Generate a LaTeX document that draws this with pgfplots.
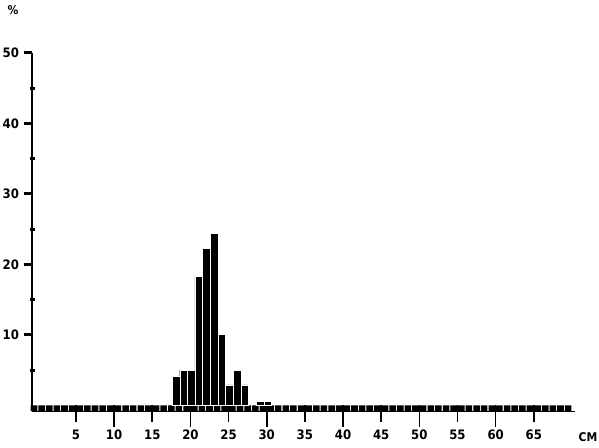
\documentclass[border=0pt]{standalone}
\usepackage{pgfplots}
\pgfplotsset{compat=1.18}
\usepackage{fontspec}
\setmainfont{DejaVu Sans Condensed}
\begin{document}
\begin{tikzpicture}
\pgfplotsset{base/.style={
  at={(32pt,36pt)}, anchor=south west,
  scale only axis, width=543pt, height=358pt,
  xmin=-0.76, xmax=70.4, ymin=-0.8, ymax=50}}
\path[use as bounding box] (0pt,0pt) rectangle (599pt,447pt);
\begin{axis}[
  base,
  axis x line*=bottom, axis y line*=left,
  x axis line style={-, line width=0.5pt},
  y axis line style={-, line width=2.5pt},
  xtick align=outside, ytick align=outside,
  major tick length=8.5pt,
  xtick={5,10,...,65},
  xticklabels={5,10,15,20,25,30,35,40,45,50,55,60,65},
  xtick style={black, line width=1.6pt},
  x tick label style={font=\fontsize{13}{13}\selectfont\bfseries, yshift=-7pt},
  ytick={10,20,30,40,50},
  yticklabels={10,20,30,40,50},
  ytick style={black, line width=3pt},
  y tick label style={font=\fontsize{13}{13}\selectfont\bfseries, xshift=-1pt},
  clip=false,
]
% x tick marks below the baseline (short at odd fives, long at tens)
\addplot[ycomb, black, line width=1.6pt, mark=none] coordinates {
(5,-2.3)(15,-2.3)(25,-2.3)(35,-2.3)(45,-2.3)(55,-2.3)(65,-2.3)
};
\addplot[ycomb, black, line width=1.6pt, mark=none] coordinates {
(10,-3.1)(20,-3.1)(30,-3.1)(40,-3.1)(50,-3.1)(60,-3.1)
};
% baseline row of small bars (below zero)
\addplot[ybar, fill=black, draw=none, bar width=0.86, bar shift=0pt] coordinates {
(-0.5,-0.8)(0.5,-0.8)(1.5,-0.8)(2.5,-0.8)(3.5,-0.8)(4.5,-0.8)(5.5,-0.8)(6.5,-0.8)(7.5,-0.8)(8.5,-0.8)
(9.5,-0.8)(10.5,-0.8)(11.5,-0.8)(12.5,-0.8)(13.5,-0.8)(14.5,-0.8)(15.5,-0.8)(16.5,-0.8)(17.5,-0.8)(18.5,-0.8)
(19.5,-0.8)(20.5,-0.8)(21.5,-0.8)(22.5,-0.8)(23.5,-0.8)(24.5,-0.8)(25.5,-0.8)(26.5,-0.8)(27.5,-0.8)(28.5,-0.8)
(29.5,-0.8)(30.5,-0.8)(31.5,-0.8)(32.5,-0.8)(33.5,-0.8)(34.5,-0.8)(35.5,-0.8)(36.5,-0.8)(37.5,-0.8)(38.5,-0.8)
(39.5,-0.8)(40.5,-0.8)(41.5,-0.8)(42.5,-0.8)(43.5,-0.8)(44.5,-0.8)(45.5,-0.8)(46.5,-0.8)(47.5,-0.8)(48.5,-0.8)
(49.5,-0.8)(50.5,-0.8)(51.5,-0.8)(52.5,-0.8)(53.5,-0.8)(54.5,-0.8)(55.5,-0.8)(56.5,-0.8)(57.5,-0.8)(58.5,-0.8)
(59.5,-0.8)(60.5,-0.8)(61.5,-0.8)(62.5,-0.8)(63.5,-0.8)(64.5,-0.8)(65.5,-0.8)(66.5,-0.8)(67.5,-0.8)(68.5,-0.8)
(69.5,-0.8)
};
% main histogram
\addplot[ybar, fill=black, draw=white, line width=0.3pt, bar width=1, bar shift=0pt] coordinates {
(18.1,4.1)(19.1,5)(20.1,5)(21.1,18.3)(22.1,22.3)(23.1,24.4)(24.1,10.1)(25.1,2.9)(26.1,5)(27.1,2.9)(29.1,0.6)(30.1,0.6)
};
\end{axis}
% minor y ticks (dots on the axis)
\begin{axis}[
  base,
  hide x axis, axis y line*=left, y axis line style={draw=none},
  ytick={5,15,25,35,45}, yticklabels={},
  ytick align=center, major tick length=5pt,
  ytick style={black, line width=3pt},
]
\end{axis}
\node[font=\fontsize{12}{12}\selectfont\bfseries] at (13pt,437pt) {\%};
\node[font=\fontsize{12}{12}\selectfont\bfseries] at (588pt,10pt) {CM};
\end{tikzpicture}
\end{document}
